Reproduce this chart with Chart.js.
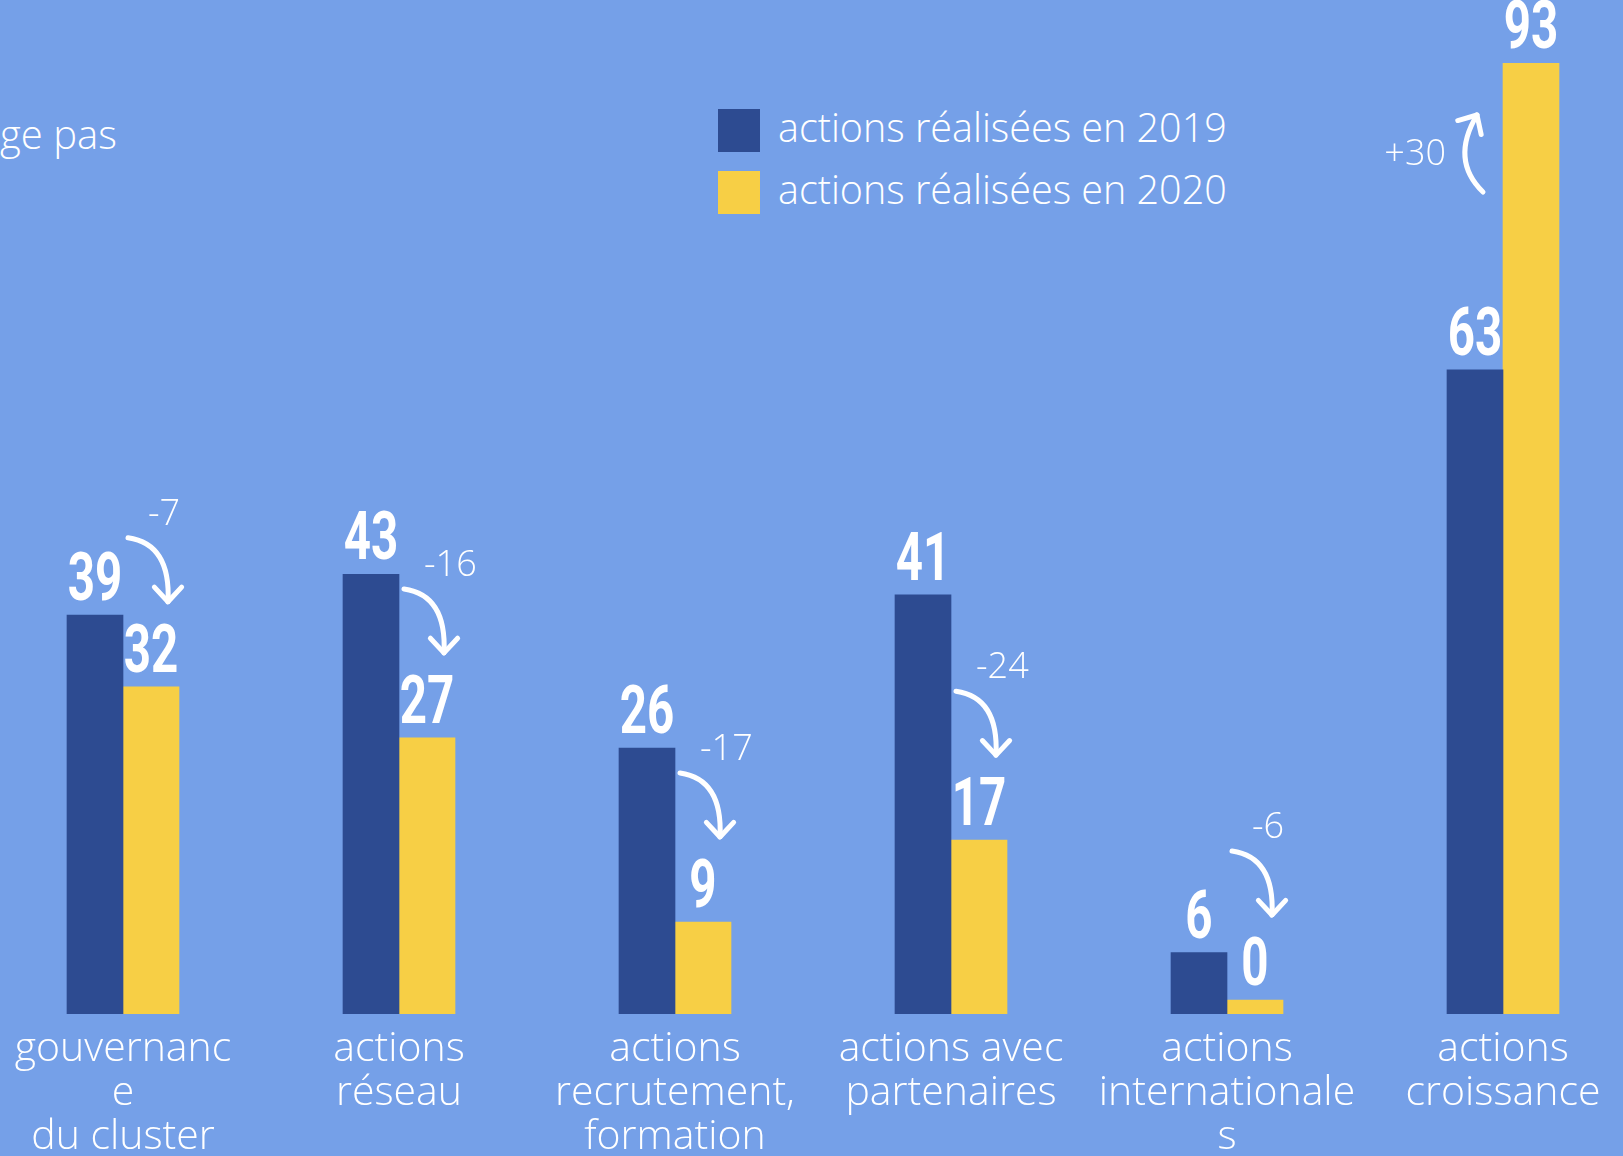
<!DOCTYPE html>
<html lang="fr">
<head>
<meta charset="utf-8">
<title>Actions 2019 / 2020</title>
<script src="https://cdn.jsdelivr.net/npm/chart.js@4"></script>
<style>
  html, body {
    margin: 0;
    padding: 0;
    width: 1623px;
    height: 1156px;
    overflow: hidden;
    background: #75a0e8;
  }
  #wrap {
    position: absolute;
    left: -15px;
    top: 0;
    width: 1656px;
    height: 1156px;
  }
  #note {
    position: absolute;
    left: 0;
    top: 106px;
    color: #fff;
    font: 300 40px "Open Sans";
  }
  #legend {
    position: absolute;
    left: 718px;
    top: 109px;
  }
  .legend-item {
    display: flex;
    align-items: center;
    height: 43px;
    margin-bottom: 19px;
    color: #fff;
    font: 300 39.5px "Open Sans";
    white-space: nowrap;
  }
  .legend-item span.txt {
    position: relative;
    top: -4px;
  }
  .legend-box {
    width: 42px;
    height: 43px;
    margin-right: 18px;
  }
</style>
</head>
<body>
<div id="note">ge pas</div>
<div id="legend"></div>
<div id="wrap"><canvas id="actionsChart"></canvas></div>

<script>
// categories, split on the lines shown under each group
const categories = [
  ["gouvernanc", "e", "du cluster"],
  ["actions", "réseau"],
  ["actions", "recrutement,", "formation"],
  ["actions avec", "partenaires"],
  ["actions", "internationale", "s"],
  ["actions", "croissance"],
];
const actions2019 = [39, 43, 26, 41, 6, 63];
const actions2020 = [32, 27, 9, 17, 0, 93];
const seriesLabels = ["actions réalisées en 2019", "actions réalisées en 2020"];
const seriesColors = ["#2d4b91", "#f7cf45"];
const yMax = 93;

// difference 2020 - 2019 shown next to each arrow
const deltas = actions2020.map((v, i) => v - actions2019[i]);

/** Numbers above every bar */
const valueLabels = {
  id: "valueLabels",
  afterDatasetsDraw(chart) {
    const ctx = chart.ctx;
    chart.data.datasets.forEach((ds, i) => {
      chart.getDatasetMeta(i).data.forEach((bar, j) => {
        ctx.save();
        ctx.fillStyle = "#fff";
        ctx.font = 'bold 66px Roboto';
        ctx.textAlign = "center";
        ctx.textBaseline = "alphabetic";
        // narrow the glyphs a bit, the original uses a condensed brush font
        ctx.translate(bar.x, bar.y - 15);
        ctx.scale(0.72, 1);
        ctx.fillText(String(ds.data[j]), 0, 0);
        ctx.restore();
      });
    });
  },
};

function arrowHead(ctx, tipX, tipY, fromX, fromY) {
  const angle = Math.atan2(tipY - fromY, tipX - fromX);
  const len = 20;
  ctx.beginPath();
  ctx.moveTo(tipX + len * Math.cos(angle + Math.PI - 0.75), tipY + len * Math.sin(angle + Math.PI - 0.75));
  ctx.lineTo(tipX, tipY);
  ctx.lineTo(tipX + len * Math.cos(angle + Math.PI + 0.75), tipY + len * Math.sin(angle + Math.PI + 0.75));
  ctx.stroke();
}

/** Curved arrows with the difference between the two years */
const deltaArrows = {
  id: "deltaArrows",
  afterDatasetsDraw(chart) {
    const ctx = chart.ctx;
    const bars2019 = chart.getDatasetMeta(0).data;
    const bars2020 = chart.getDatasetMeta(1).data;
    ctx.save();
    ctx.strokeStyle = "#fff";
    ctx.fillStyle = "#fff";
    ctx.lineWidth = 5;
    ctx.lineCap = "round";
    ctx.lineJoin = "round";
    ctx.font = '300 36px "Open Sans"';
    ctx.textBaseline = "middle";

    deltas.forEach((d, i) => {
      const a = bars2019[i];
      const b = bars2020[i];
      if (d < 0) {
        const x0 = a.x + a.width / 2 + 5;
        const y1 = b.y - 85;
        const y0 = y1 - 64;
        const x1 = x0 + 40;
        ctx.beginPath();
        ctx.moveTo(x0, y0);
        ctx.bezierCurveTo(x0 + 28, y0 + 4, x1 + 2, y0 + 24, x1, y1);
        ctx.stroke();
        arrowHead(ctx, x1, y1, x1, y0);
        ctx.textAlign = "left";
        ctx.fillText(String(d), x0 + 20, y0 - 23);
      } else {
        const left = b.x - b.width / 2;
        const top = b.y;
        const bx = left - 20, by = top + 129;
        const cx = left - 53, cy = top + 97;
        const tx = left - 26, ty = top + 52;
        ctx.beginPath();
        ctx.moveTo(bx, by);
        ctx.quadraticCurveTo(cx, cy, tx, ty);
        ctx.stroke();
        arrowHead(ctx, tx, ty, cx, cy);
        ctx.textAlign = "right";
        ctx.fillText("+" + d, left - 57, top + 92);
      }
    });
    ctx.restore();
  },
};

const ctx = document.getElementById("actionsChart");
const chart = new Chart(ctx, {
  type: "bar",
  data: {
    labels: categories,
    datasets: [
      {
        label: seriesLabels[0],
        data: actions2019,
        backgroundColor: seriesColors[0],
        barThickness: 56,
      },
      {
        label: seriesLabels[1],
        data: actions2020,
        backgroundColor: seriesColors[1],
        barThickness: 56,
        minBarLength: 14,
      },
    ],
  },
  options: {
    responsive: true,
    maintainAspectRatio: false,
    animation: false,
    layout: { padding: { top: 63, left: 0, right: 0, bottom: 0 } },
    plugins: {
      legend: { display: false },
      tooltip: { enabled: false },
    },
    scales: {
      x: {
        grid: { display: false },
        border: { display: false },
        ticks: {
          color: "#fff",
          padding: 5,
          maxRotation: 0,
          autoSkip: false,
          font: { family: "Open Sans", size: 41, weight: 300, lineHeight: 1.08 },
        },
        afterFit: (scale) => {
          scale.height = 142;
        },
      },
      y: {
        display: false,
        min: 0,
        max: yMax,
      },
    },
  },
  plugins: [valueLabels, deltaArrows],
});

// Legend built from the datasets
const legend = document.getElementById("legend");
chart.data.datasets.forEach((ds) => {
  const item = document.createElement("div");
  item.className = "legend-item";
  item.innerHTML = `<span class="legend-box" style="background:${ds.backgroundColor}"></span><span class="txt">${ds.label}</span>`;
  legend.appendChild(item);
});
</script>
</body>
</html>
